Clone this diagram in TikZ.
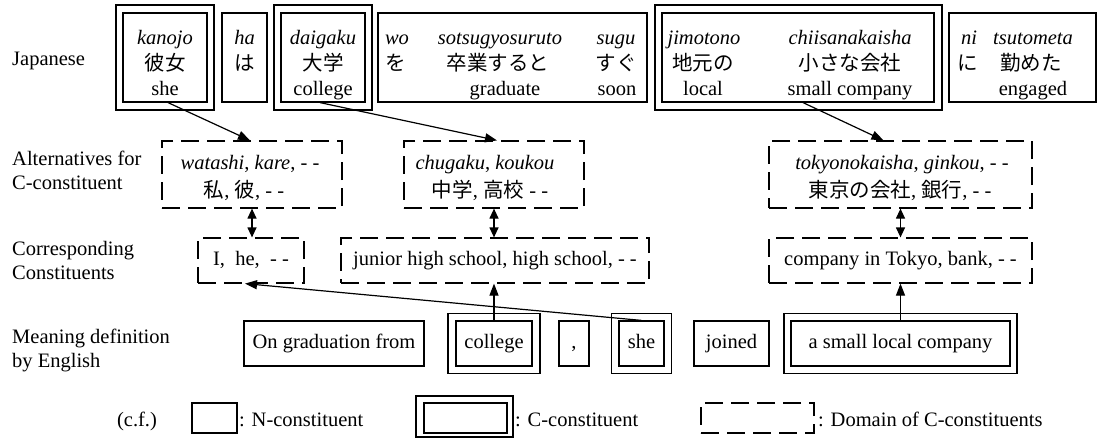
\documentclass[tikz,border=0pt]{standalone}
\usepackage{fontspec}
\setmainfont{Liberation Serif}
\newfontfamily\jp{Noto Sans CJK JP}
\usetikzlibrary{arrows.meta}
\begin{document}
\begin{tikzpicture}[x=1pt,y=-1pt,font=\fontsize{20.5}{24}\selectfont,
  lw/.style={line width=1.2pt},
  nbox/.style={draw,lw,inner sep=0pt,text height=14pt,text depth=4.5pt},
  dbox/.style={draw,lw,dash pattern=on 18pt off 8pt,inner sep=0pt,text height=14pt,text depth=4.5pt},
  bt/.style={inner sep=0pt,anchor=base},
  lab/.style={inner sep=0pt,anchor=west,align=left},
  arr/.style={lw,-{Triangle[length=12pt,width=9pt]}},
  darr/.style={lw,{Triangle[length=10pt,width=9pt]}-{Triangle[length=10pt,width=9pt]}},
  ]
\useasboundingbox (0,0) rectangle (1101,439);
% left labels
\node[lab] (lJ) at (12,61) {Japanese};
\node[lab] (lA) at (12,170) {Alternatives for\\C-constituent};
\node[lab] (lC) at (12,260) {Corresponding\\Constituents};
\node[lab] (lM) at (12,350) {Meaning definition\\by English};
% row 1 boxes
\node[nbox,minimum width=98pt,minimum height=105pt] (kanojoO) at (165,57.5) {};
\node[nbox,minimum width=84pt,minimum height=89pt] (kanojo) at (165,57.5) {};
\node[nbox,minimum width=45pt,minimum height=89pt] (ha) at (244.5,57.5) {};
\node[nbox,minimum width=98pt,minimum height=105pt] (daigakuO) at (323,57.5) {};
\node[nbox,minimum width=84pt,minimum height=89pt] (daigaku) at (323,57.5) {};
\node[nbox,minimum width=269pt,minimum height=89pt] (wobox) at (512.5,57.5) {};
\node[nbox,minimum width=287pt,minimum height=105pt] (jimoO) at (798.5,57.5) {};
\node[nbox,minimum width=272pt,minimum height=89pt] (jimo) at (798,57.5) {};
\node[nbox,minimum width=147pt,minimum height=89pt] (nibox) at (1022.5,57.5) {};
% row 1 words
\node[bt] (r1) at (165,45) {\textit{kanojo}};
\node[bt] (j1) at (165,70) {\jp 彼女};
\node[bt] (e1) at (165,95) {she};
\node[bt] (r2) at (244.5,45) {\textit{ha}};
\node[bt] (j2) at (244.5,70) {\jp は};
\node[bt] (r3) at (323,45) {\textit{daigaku}};
\node[bt] (j3) at (323,70) {\jp 大学};
\node[bt] (e3) at (323,95) {college};
\node[bt] (r4) at (397,45) {\textit{wo}};
\node[bt] (j4) at (396,70) {\jp を};
\node[bt] (r5) at (500,45) {\textit{sotsugyosuruto}};
\node[bt] (j5) at (498,70) {\jp 卒業すると};
\node[bt] (e5) at (505,95) {graduate};
\node[bt] (r6) at (616,45) {\textit{sugu}};
\node[bt] (j6) at (616,70) {\jp すぐ};
\node[bt] (e6) at (617,95) {soon};
\node[bt] (r7) at (704,45) {\textit{jimotono}};
\node[bt] (j7) at (703,70) {\jp 地元の};
\node[bt] (e7) at (703,95) {local};
\node[bt] (r8) at (850,45) {\textit{chiisanakaisha}};
\node[bt] (j8) at (850,70) {\jp 小さな会社};
\node[bt] (e8) at (850,95) {small company};
\node[bt] (r9) at (969,45) {\textit{ni}};
\node[bt] (j9) at (968,70) {\jp に};
\node[bt] (r10) at (1033,45) {\textit{tsutometa}};
\node[bt] (j10) at (1031,70) {\jp 勤めた};
\node[bt] (e10) at (1033,95) {engaged};
% row 2
\node[dbox,minimum width=180pt,minimum height=67pt] (watashi) at (252,174.5) {};
\node[bt] (a1) at (250,169) {\textit{watashi}, \textit{kare}, - -};
\node[bt] (b1) at (244,197) {{\jp 私}, {\jp 彼}, - -};
\node[dbox,minimum width=180pt,minimum height=67pt] (chugaku) at (494,174.5) {};
\node[bt] (a2) at (485,169) {\textit{chugaku}, \textit{koukou}};
\node[bt] (b2) at (490,197) {{\jp 中学}, {\jp 高校} - -};
\node[dbox,minimum width=263pt,minimum height=67pt] (tokyo) at (900.5,174.5) {};
\node[bt] (a3) at (902,169) {\textit{tokyonokaisha}, \textit{ginkou}, - -};
\node[bt] (b3) at (900,197) {{\jp 東京の会社}, {\jp 銀行}, - -};
% row 3
\node[dbox,minimum width=106pt,minimum height=45pt] (ihe) at (251,260.5) {I,\ \ he,\ \ - -};
\node[dbox,minimum width=308pt,minimum height=45pt] (junior) at (495,260.5) {junior high school, high school, - -};
\node[dbox,minimum width=263pt,minimum height=45pt] (company) at (900.5,260.5) {company in Tokyo, bank, - -};
% row 4
\node[nbox,minimum width=180pt,minimum height=45pt] (ongrad) at (334,343.5) {On graduation from};
\node[nbox,minimum width=92pt,minimum height=60pt] (collegeO) at (494,343.5) {};
\node[nbox,minimum width=76pt,minimum height=45pt] (college) at (494,343.5) {college};
\node[nbox,minimum width=30pt,minimum height=45pt] (comma) at (574,343.5) {,};
\node[nbox,minimum width=60pt,minimum height=60pt] (sheO) at (641.5,343.5) {};
\node[nbox,minimum width=45pt,minimum height=45pt] (she) at (641.5,343.5) {she};
\node[nbox,minimum width=75pt,minimum height=45pt] (joined) at (731.5,343.5) {joined};
\node[nbox,minimum width=233pt,minimum height=60pt] (smallO) at (900.5,343.5) {};
\node[nbox,minimum width=219pt,minimum height=45pt] (small) at (900.5,343.5) {a small local company};
% arrows
\draw[arr] ([xshift=3pt]kanojo.south) -- ([xshift=-2pt]watashi.north);
\draw[arr] ([xshift=-3pt]daigaku.south) -- ([xshift=3pt]chugaku.north);
\draw[arr] ([xshift=5pt]jimo.south) -- ([xshift=-17pt]tokyo.north);
\draw[darr] (watashi.south) -- (ihe.north -| watashi.south);
\draw[darr] (chugaku.south) -- (junior.north -| chugaku.south);
\draw[darr] (tokyo.south) -- (company.north);
\draw[arr] (college.north) -- (junior.south -| college.north);
\draw[arr] (small.north) -- (company.south);
\draw[arr] (she.north) -- ([xshift=-6pt]ihe.south);
% legend
\node[bt] (cf) at (137,426) {(c.f.)};
\node[nbox,minimum width=45pt,minimum height=30pt] (legN) at (214.5,418) {};
\node[bt,anchor=base west] (legNt) at (239,426) {: N-constituent};
\node[nbox,minimum width=97pt,minimum height=41pt] (legCO) at (464.5,416.5) {};
\node[nbox,minimum width=83pt,minimum height=30pt] (legC) at (465.5,418) {};
\node[bt,anchor=base west] (legCt) at (515,426) {: C-constituent};
\node[dbox,minimum width=113pt,minimum height=30pt] (legD) at (757.5,418) {};
\node[bt,anchor=base west] (legDt) at (818,426) {: Domain of C-constituents};
\end{tikzpicture}
\end{document}
